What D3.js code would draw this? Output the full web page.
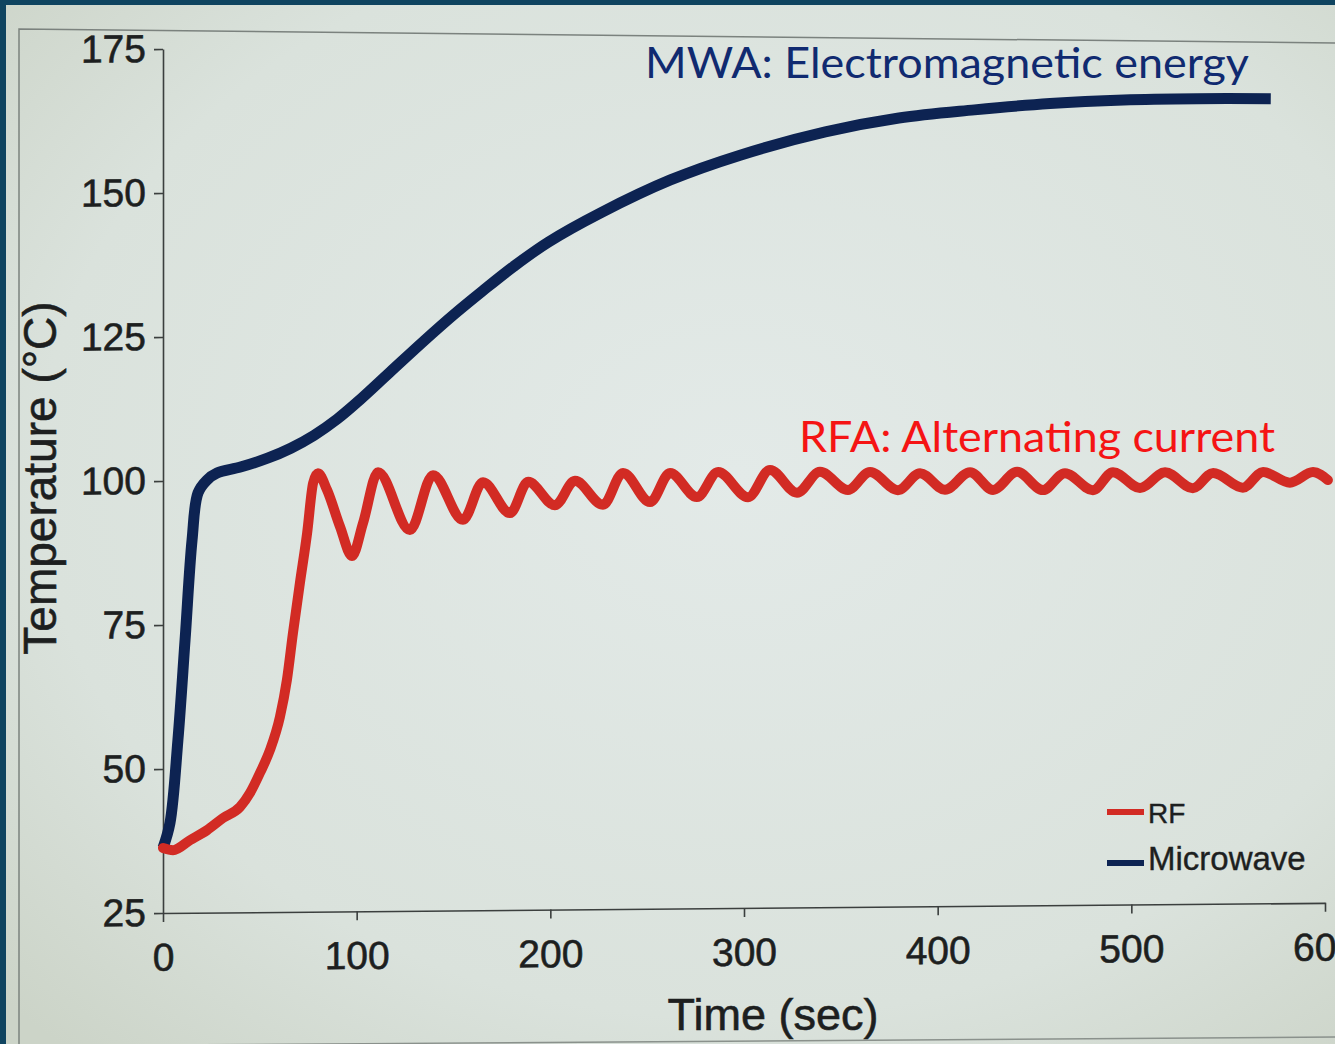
<!DOCTYPE html>
<html><head><meta charset="utf-8">
<script src="https://cdn.jsdelivr.net/npm/d3@7"></script>
<style>html,body{margin:0;padding:0;background:#0f4460;overflow:hidden}</style>
</head><body>
<svg id="chart" width="1335" height="1044"></svg>
<script>
// ---- data ----
const xTicks = [0, 100, 200, 300, 400, 500, 600];
const yTicks = [25, 50, 75, 100, 125, 150, 175];

const mwaTime = [0, 3.6, 7.7, 11.4, 15, 18.1, 22.7, 27.9, 40, 54, 66, 78, 90, 100, 117, 135, 150, 165, 181, 199, 226, 262, 298, 342, 380, 419, 458, 496, 534, 572];
const mwaTemp = [36.3, 40.6, 55.0, 72.4, 89.7, 97.9, 100.1, 101.3, 102.3, 103.8, 105.5, 107.7, 110.5, 113.3, 118.5, 124.0, 128.4, 132.5, 136.7, 140.9, 145.9, 151.5, 155.7, 159.6, 161.9, 163.2, 164.2, 164.7, 164.8, 164.7];

const rfTime = [0, 5.2, 13.9, 22.7, 31, 39.8, 44.9, 50.1, 55.2, 60.4, 64, 67.1, 70.7, 74.4, 77.5, 80, 84.7, 91.4, 97.6, 103.3, 111, 127.5, 139.4, 154.9, 165.2, 179.2, 188.5, 202.4, 212.7, 227.2, 237.5, 251.5, 261.8, 275.7, 286.6, 302.1, 313.4, 327.4, 339.2, 353.7, 365.1, 379.5, 390.9, 403.8, 416.7, 428.6, 441, 454.4, 465.7, 480.2, 490.5, 504.5, 517.4, 531.8, 542.2, 557.6, 568, 581.9, 593.8, 601.5];
const rfTemp = [36.3, 35.9, 37.6, 39.3, 41.4, 43.3, 45.7, 49.2, 53.1, 58.9, 65.3, 73.4, 82.1, 90.7, 99.4, 101.1, 98.2, 91.8, 86.7, 92.4, 101.2, 91.1, 100.6, 92.8, 99.3, 93.9, 99.3, 95.2, 99.4, 95.2, 100.7, 95.6, 100.6, 96.4, 100.7, 96.3, 101.0, 97.0, 100.6, 97.4, 100.5, 97.3, 100.2, 97.3, 100.3, 97.2, 100.3, 97.1, 100.0, 97.0, 100.1, 97.3, 100.0, 97.2, 99.8, 97.2, 99.9, 98.0, 99.8, 98.4];

const seriesNames = ["RF", "Microwave"];
const annotationTexts = ["MWA: Electromagnetic energy", "RFA: Alternating current"];
const xTitle = "Time (sec)";
const yTitle = "Temperature (°C)";

// ---- drawing ----
const svg = d3.select("#chart");
const defs = svg.append("defs");
const grad = defs.append("radialGradient").attr("id", "bg").attr("cx", "55%").attr("cy", "45%").attr("r", "75%");
grad.append("stop").attr("offset", "0%").attr("stop-color", "#e3eae8");
grad.append("stop").attr("offset", "70%").attr("stop-color", "#dae2dc");
grad.append("stop").attr("offset", "100%").attr("stop-color", "#ccd4c8");

svg.append("rect").attr("x", 0).attr("y", 0).attr("width", 1335).attr("height", 1044).attr("fill", "#0f4460");
svg.append("rect").attr("x", 6).attr("y", 5).attr("width", 1329).attr("height", 1039).attr("fill", "url(#bg)");

// outer frame of the photographed figure
svg.append("path").attr("d", "M19,1044 L19,29 L1335,43").attr("fill", "none").attr("stroke", "#7b827e").attr("stroke-width", 1.5);
svg.append("path").attr("d", "M19,1046 L1335,1037").attr("fill", "none").attr("stroke", "#8a918c").attr("stroke-width", 1.5);

const x = d3.scaleLinear().domain([0, 600]).range([163, 1325]);
const y = d3.scaleLinear().domain([25, 175]).range([913, 49]);

const g = svg.append("g").attr("transform", "translate(163,0) skewY(-0.5) translate(-163,0)");

const fontFam = "'Liberation Sans', Arial, sans-serif";
const xAxis = g.append("g").attr("transform", `translate(0,${y(25)})`)
  .call(d3.axisBottom(x).tickValues(xTicks).tickSize(9).tickSizeOuter(0).tickPadding(21).tickFormat(d3.format("d")));
const yAxis = g.append("g").attr("transform", `translate(${x(0)},0)`)
  .call(d3.axisLeft(y).tickValues(yTicks).tickSize(9).tickSizeOuter(0).tickPadding(8).tickFormat(d3.format("d")));
[xAxis, yAxis].forEach(a => {
  a.selectAll("path,line").attr("stroke", "#3b3f3e").attr("stroke-width", 1.6);
  a.selectAll("text").attr("font-family", fontFam).attr("font-size", 39).attr("fill", "#1d1f1f")
    .attr("stroke", "#1d1f1f").attr("stroke-width", 0.6);
});

const mwaLine = d3.line().x(d => x(d[0])).y(d => y(d[1])).curve(d3.curveCatmullRom.alpha(0.5));
const rfLine = d3.line().x(d => x(d[0])).y(d => y(d[1])).curve(d3.curveMonotoneX);
const mwa = mwaTime.map((t, i) => [t, mwaTemp[i]]);
const rf = rfTime.map((t, i) => [t, rfTemp[i]]);

g.append("path").datum(mwa).attr("d", mwaLine).attr("fill", "none")
  .attr("stroke", "#0d2352").attr("stroke-width", 11).attr("stroke-linecap", "butt").attr("stroke-linejoin", "round");
g.append("path").datum(rf).attr("d", rfLine).attr("fill", "none")
  .attr("stroke", "#d22b24").attr("stroke-width", 10).attr("stroke-linecap", "round").attr("stroke-linejoin", "round");

// axis titles
svg.append("text").attr("x", 773).attr("y", 1030).attr("text-anchor", "middle")
  .attr("font-family", fontFam).attr("font-size", 45).attr("fill", "#1d1f1f")
  .attr("stroke", "#1d1f1f").attr("stroke-width", 0.6).text(xTitle);
svg.append("text").attr("transform", "translate(56,478) rotate(-90)").attr("text-anchor", "middle")
  .attr("font-family", fontFam).attr("font-size", 46).attr("fill", "#1d1f1f")
  .attr("stroke", "#1d1f1f").attr("stroke-width", 0.6).text(yTitle);

// legend
const legendColors = ["#d22b24", "#0d2352"];
const legendY = [812, 863];
const legendSize = [28, 33];
seriesNames.forEach((n, i) => {
  svg.append("line").attr("x1", 1107).attr("x2", 1144).attr("y1", legendY[i]).attr("y2", legendY[i])
    .attr("stroke", legendColors[i]).attr("stroke-width", 6);
  svg.append("text").attr("x", 1148).attr("y", legendY[i] + (i === 0 ? 11 : 7))
    .attr("font-family", fontFam).attr("font-size", legendSize[i]).attr("fill", "#1d1f1f")
    .attr("stroke", "#1d1f1f").attr("stroke-width", 0.4).text(n);
});

// annotations
svg.append("text").attr("x", 645).attr("y", 78).attr("font-family", "Lato, 'Open Sans', sans-serif")
  .attr("font-size", 42).attr("fill", "#102a70").attr("textLength", 604).attr("lengthAdjust", "spacingAndGlyphs").text(annotationTexts[0]);
svg.append("text").attr("x", 799).attr("y", 452).attr("font-family", "Lato, 'Open Sans', sans-serif")
  .attr("font-size", 42).attr("fill", "#f51414").attr("textLength", 476).attr("lengthAdjust", "spacingAndGlyphs").text(annotationTexts[1]);
</script>
</body></html>
